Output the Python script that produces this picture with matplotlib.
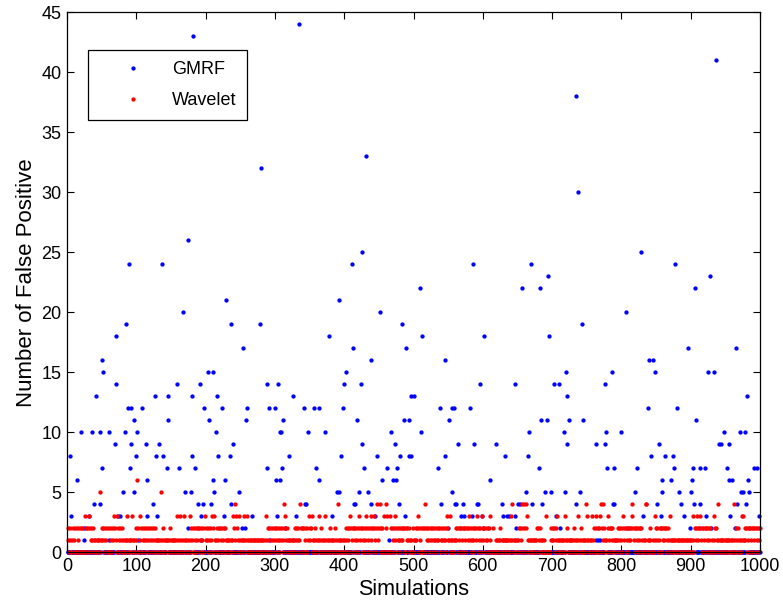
import numpy as np
import matplotlib
matplotlib.use("Agg")
import matplotlib.pyplot as plt

# wavelet false positives, one digit per simulation (sim 1 .. 1000), 50 per line
wavelet_digits = (
    "1201201021" "0200210202" "0200032020" "3201210210" "1011015012"
    "1201210200" "2021021320" "1320120120" "1010131010" "1103101012"
    "6200312012" "1021021201" "2012102101" "0110150210" "1011010210"
    "1010110130" "1031001031" "0100101320" "1202102120" "2102120031"
    "2102120132" "0310102120" "2102120210" "1011010130" "2143201301"
    "0101310103" "1010110101" "1010110101" "0110103102" "1200212012"
    "1201212012" "0142312010" "1101010121" "2012142020" "2012020132"
    "1203101201" "0131012010" "1301010120" "1011012010" "4101010101"
    "0120212302" "1202120120" "2312021201" "2302102312" "0231204212"
    "0420203002" "4300032020" "1231201212" "0121202021" "2102101021"
    "0121203201" "2020204212" "1201212012" "1201212012" "1201210321"
    "1031010101" "2120212021" "2021202123" "1201212021" "2302120132"
    "1201212021" "3000200010" "1011201011" "0101101013" "1401011001"
    "1202142042" "0423101011" "0101101202" "1201010100" "3000000121"
    "2120213101" "0101101301" "2101011010" "2101013010" "2101011041"
    "3101013010" "2032020230" "4241210103" "2120212010" "1101212012"
    "0321202120" "1212342120" "2120212021" "0101440101" "2100010312"
    "1201202021" "2120212013" "1010110101" "1010101101" "0101101010"
    "1031021232" "1232120212" "0212021200" "1031202141" "0101101010"
    "1101010101" "0410120210" "1013131212" "0212021202" "1202120212"
)

# GMRF false positives: count -> simulations with that count (all others are 0)
gmrf_by_count = {
    44: [335],
    43: [182],
    41: [936],
    38: [734],
    33: [431],
    32: [280],
    30: [738],
    26: [175],
    25: [425, 829],
    24: [89, 137, 411, 586, 669, 878],
    23: [694, 928],
    22: [510, 656, 682, 906],
    21: [229, 393],
    20: [168, 451, 806],
    19: [85, 236, 278, 484, 743],
    18: [70, 378, 512, 602, 695],
    17: [254, 412, 489, 896, 965],
    16: [51, 438, 545, 840, 845],
    15: [52, 204, 211, 402, 720, 786, 849, 925, 934],
    14: [71, 158, 192, 289, 304, 400, 424, 596, 646, 703, 710, 777],
    13: [42, 127, 145, 180, 216, 326, 497, 500, 722, 981],
    12: [88, 92, 108, 197, 223, 259, 292, 300, 342, 356, 363, 398, 538, 556,
         559, 581, 838, 880],
    11: [96, 146, 205, 258, 311, 419, 486, 493, 551, 684, 693, 724, 745, 907],
    10: [20, 36, 48, 61, 84, 101, 215, 308, 309, 348, 372, 468, 511, 667, 717,
         778, 799, 948, 971, 978],
    9: [69, 93, 114, 133, 239, 426, 474, 564, 588, 619, 721, 764, 776, 854,
        941, 944, 956],
    8: [5, 99, 128, 138, 181, 218, 235, 320, 395, 448, 480, 494, 496, 546, 632,
        665, 843, 863, 874],
    7: [50, 91, 144, 162, 185, 288, 310, 359, 428, 462, 476, 536, 681, 779, 790,
        822, 876, 903, 914, 921, 953, 992, 996],
    6: [14, 116, 210, 228, 301, 307, 364, 454, 471, 475, 611, 858, 871, 902,
        955, 959, 982],
    5: [81, 97, 170, 179, 212, 248, 389, 392, 421, 434, 555, 662, 690, 699, 718,
        740, 819, 859, 883, 901, 973, 976, 984],
    4: [39, 47, 124, 189, 196, 208, 237, 344, 345, 414, 416, 439, 479, 540, 560,
        562, 571, 591, 593, 627, 651, 653, 671, 686, 735, 788, 789, 851, 886,
        905, 913, 967, 980],
    3: [6, 32, 73, 77, 115, 130, 193, 226, 267, 303, 330, 383, 445, 488, 568,
        573, 584, 599, 629, 635, 638, 647, 706, 831, 857, 891, 922, 957, 999],
    2: [24, 174, 253, 257, 315, 550, 600, 648, 711, 810, 899, 930, 964],
    1: [25, 60, 103, 194, 293, 465, 763, 766, 769],
}

n_sims = 1000
sims = np.arange(1, n_sims + 1)
wavelet = np.array([int(c) for c in wavelet_digits])
assert len(wavelet) == n_sims
gmrf = np.zeros(n_sims)
for count, idx in gmrf_by_count.items():
    gmrf[np.array(idx) - 1] = count

plt.rcParams['font.family'] = ['Liberation Sans', 'DejaVu Sans']

fig = plt.figure(figsize=(7.83, 6.07), dpi=100)
ax = fig.add_axes([0.0856, 0.0901, 0.885, 0.8896])

ax.plot(sims, gmrf, 'o', color=(0, 0, 1), ms=3.1, mew=0, label='GMRF', clip_on=False)
ax.plot(sims, wavelet, 'o', color=(1, 0, 0), ms=3.1, mew=0, label='Wavelet', clip_on=False)

ax.set_xlim(0, 1000)
ax.set_ylim(0, 45)
ax.set_xticks(np.arange(0, 1001, 100))
ax.set_yticks(np.arange(0, 46, 5))
ax.tick_params(direction='in', top=True, right=True, length=5, width=0.8,
               labelsize=13, pad=4)
for s in ax.spines.values():
    s.set_linewidth(0.9)
ax.set_xlabel('Simulations', fontsize=15.5, labelpad=3)
ax.set_ylabel('Number of False Positive', fontsize=16, labelpad=3)

leg = ax.legend(loc='upper left', bbox_to_anchor=(0.0303, 0.930), borderaxespad=0,
                fontsize=13, fancybox=False, framealpha=1, edgecolor='black',
                handlelength=3.8, handletextpad=0.26, borderpad=0.6,
                labelspacing=0.8, numpoints=1, markerscale=1.0)
leg.get_frame().set_linewidth(0.9)

fig.savefig('out.png', dpi=100)
